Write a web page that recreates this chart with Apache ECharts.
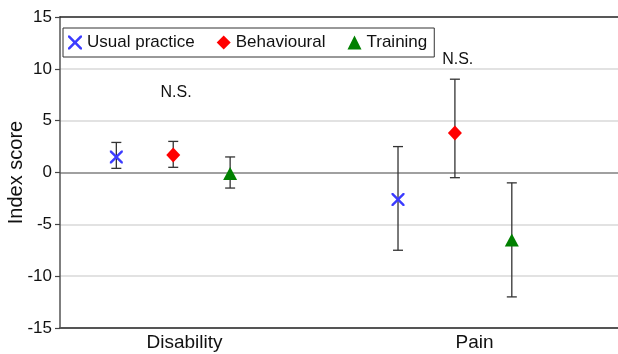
<!DOCTYPE html>
<html><head><meta charset="utf-8">
<script src="https://cdn.jsdelivr.net/npm/echarts@6/dist/echarts.min.js"></script>
<style>html,body{margin:0;padding:0;background:#fff}#c{width:618px;height:354px}</style>
</head><body><div id="c"></div>
<script>
const categories = ['Disability', 'Pain'];
const seriesNames = ['Usual practice', 'Behavioural', 'Training'];
const means = [[1.5, -2.6], [1.7, 3.8], [-0.1, -6.5]];
const lower = [[0.4, -7.5], [0.5, -0.5], [-1.5, -12.0]];
const upper = [[2.9, 2.5], [3.0, 9.0], [1.5, -1.0]];
const nsText = ['N.S.', 'N.S.'];
const nsY = [7.7, 10.9];
const yTicks = [-15, -10, -5, 0, 5, 10, 15];

const FONT = '"Liberation Sans", Arial, sans-serif';
const X_PATH = 'path://M0,0 L1.3,0 L5,3.7 L8.7,0 L10,0 L10,1.3 L6.3,5 L10,8.7 L10,10 L8.7,10 L5,6.3 L1.3,10 L0,10 L0,8.7 L3.7,5 L0,1.3 Z';
const symbols = [X_PATH, 'diamond', 'triangle'];
const colors = ['#3b3bff', '#ff0000', '#008000'];
const sizes = [[13, 13], [14, 15], [14, 13]];
const offsets = [-0.202, 0, 0.202];
const labelPos = [1.04, 2.07];

const chart = echarts.init(document.getElementById('c'), null, {renderer: 'canvas'});

const series = [];
seriesNames.forEach((name, si) => {
  series.push({
    type: 'custom',
    name: name + ' err',
    z: 2,
    silent: true,
    data: categories.map((c, ci) => [ci + 1 + offsets[si], lower[si][ci], upper[si][ci]]),
    renderItem: (params, api) => {
      const lo = api.coord([api.value(0), api.value(1)]);
      const hi = api.coord([api.value(0), api.value(2)]);
      const hw = 5;
      const st = {stroke: '#333', lineWidth: 1.3};
      return {type: 'group', children: [
        {type: 'line', shape: {x1: lo[0], y1: lo[1], x2: hi[0], y2: hi[1]}, style: st},
        {type: 'line', shape: {x1: lo[0] - hw, y1: lo[1], x2: lo[0] + hw, y2: lo[1]}, style: st},
        {type: 'line', shape: {x1: hi[0] - hw, y1: hi[1], x2: hi[0] + hw, y2: hi[1]}, style: st}
      ]};
    }
  });
});
seriesNames.forEach((name, si) => {
  series.push({
    type: 'scatter',
    name: name,
    z: 5,
    symbol: symbols[si],
    symbolSize: sizes[si],
    itemStyle: {color: colors[si], opacity: 1},
    data: categories.map((c, ci) => [ci + 1 + offsets[si], means[si][ci]])
  });
});
series.push({
  type: 'scatter',
  name: 'ns',
  symbol: 'circle',
  symbolSize: 0,
  itemStyle: {color: '#111', opacity: 1},
  silent: true,
  z: 6,
  data: nsText.map((t, ci) => [ci + 1 + 0.01, nsY[ci]]),
  label: {show: true, position: 'inside', formatter: p => nsText[p.dataIndex],
    color: '#111', opacity: 1, fontSize: 16, fontFamily: FONT}
});

chart.setOption({
  animation: false,
  backgroundColor: '#fff',
  grid: {left: 60, right: 0, top: 17, bottom: 26, containLabel: false, outerBoundsMode: 'none'},
  legend: {
    data: seriesNames.map((n, i) => ({name: n, icon: symbols[i]})),
    left: 63, top: 28,
    orient: 'horizontal',
    borderColor: '#333', borderWidth: 1,
    padding: [6, 7, 6, 5],
    itemWidth: 14, itemHeight: 14, itemGap: 22,
    textStyle: {fontSize: 17, color: '#111', fontFamily: FONT}
  },
  xAxis: [{
    type: 'value', min: 0.598, max: 2.579,
    axisLine: {show: true, onZero: false, lineStyle: {color: '#555', width: 2}},
    axisTick: {show: false},
    splitLine: {show: false},
    axisLabel: {
      customValues: labelPos,
      formatter: v => categories[Math.round(v) - 1],
      fontSize: 19, color: '#111', fontFamily: FONT, margin: 5
    }
  }, {
    type: 'value', min: 0.598, max: 2.579, position: 'top',
    axisLine: {show: true, onZero: false, lineStyle: {color: '#222', width: 1.5}},
    axisTick: {show: false}, axisLabel: {show: false}, splitLine: {show: false}
  }],
  yAxis: {
    type: 'value', min: -15, max: 15, interval: 5,
    name: 'Index score', nameLocation: 'middle', nameGap: 34, nameRotate: 90,
    nameMoveOverlap: false,
    nameTextStyle: {fontSize: 20, color: '#111', fontFamily: FONT},
    axisLine: {show: true, onZero: false, lineStyle: {color: '#555', width: 1.5}},
    axisTick: {show: true, length: 5, lineStyle: {color: '#444', width: 1.2}},
    axisLabel: {fontSize: 17, color: '#111', fontFamily: FONT, margin: 8,
      formatter: v => String(yTicks.find(t => t === v) ?? v)},
    splitLine: {show: true, lineStyle: {color: ['none', '#d8d8d8', '#d8d8d8', '#808080', '#d8d8d8', '#d8d8d8', 'none'], width: 1.5}}
  },
  series: series
});
</script></body></html>
